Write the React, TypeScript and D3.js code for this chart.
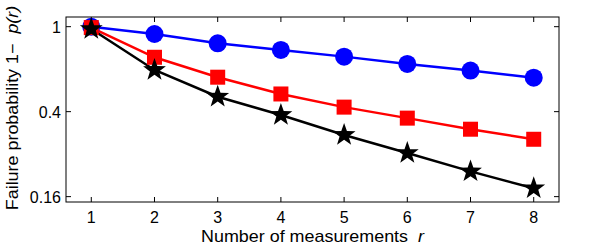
import { useEffect, useRef } from "react"
import * as d3 from "d3"

const measurements = [1, 2, 3, 4, 5, 6, 7, 8]
const circleSeries = [1.0, 0.924, 0.836, 0.778, 0.724, 0.669, 0.623, 0.577]
const squareSeries = [0.99, 0.719, 0.58, 0.484, 0.42, 0.373, 0.331, 0.297]
const starSeries = [0.975, 0.627, 0.47, 0.386, 0.311, 0.256, 0.21, 0.175]
const xTicks = [1, 2, 3, 4, 5, 6, 7, 8]
const yTicks = [0.16, 0.4, 1]

const FONT = "'Liberation Sans', Arial, Helvetica, sans-serif"

function starPath(r: number) {
  const inner = r * 0.4
  const pts: [number, number][] = []
  for (let i = 0; i < 10; i++) {
    const a = -Math.PI / 2 + (i * Math.PI) / 5
    const rr = i % 2 === 0 ? r : inner
    pts.push([rr * Math.cos(a), rr * Math.sin(a)])
  }
  return "M" + pts.map((p) => p.join(",")).join("L") + "Z"
}

export default function App() {
  const svgRef = useRef<SVGSVGElement>(null)

  useEffect(() => {
    if (!svgRef.current) return
    const svg = d3.select(svgRef.current)
    svg.selectAll("*").remove()

    const width = 598
    const height = 245
    const margin = { top: 17, right: 39, bottom: 43, left: 66 }
    const innerWidth = width - margin.left - margin.right
    const innerHeight = height - margin.top - margin.bottom

    const x = d3.scaleLinear().domain([0.6, 8.4]).range([0, innerWidth])
    const y = d3.scaleLog().domain([0.151, 1.11]).range([innerHeight, 0])

    const g = svg.append("g").attr("transform", `translate(${margin.left},${margin.top})`)

    // box
    g.append("rect")
      .attr("width", innerWidth)
      .attr("height", innerHeight)
      .attr("fill", "none")
      .attr("stroke", "#000")
      .attr("stroke-width", 1)

    // inward ticks
    const tl = 5
    xTicks.forEach((t) => {
      g.append("line").attr("x1", x(t)).attr("x2", x(t)).attr("y1", innerHeight).attr("y2", innerHeight - tl).attr("stroke", "#000")
      g.append("line").attr("x1", x(t)).attr("x2", x(t)).attr("y1", 0).attr("y2", tl).attr("stroke", "#000")
      g.append("text")
        .attr("x", x(t))
        .attr("y", innerHeight + 21)
        .attr("text-anchor", "middle")
        .attr("font-family", FONT)
        .attr("font-size", 16)
        .text(t)
    })
    yTicks.forEach((t) => {
      g.append("line").attr("x1", 0).attr("x2", tl).attr("y1", y(t)).attr("y2", y(t)).attr("stroke", "#000")
      g.append("line").attr("x1", innerWidth).attr("x2", innerWidth - tl).attr("y1", y(t)).attr("y2", y(t)).attr("stroke", "#000")
      g.append("text")
        .attr("x", -5)
        .attr("y", y(t) + 6)
        .attr("text-anchor", "end")
        .attr("font-family", FONT)
        .attr("font-size", 16)
        .text(String(t))
    })

    const line = d3
      .line<number>()
      .x((_, i) => x(measurements[i]))
      .y((d) => y(d))

    const series = [
      { values: circleSeries, color: "#0000ff", marker: "circle" },
      { values: squareSeries, color: "#ff0000", marker: "square" },
      { values: starSeries, color: "#000000", marker: "star" },
    ]

    series.forEach((s) => {
      g.append("path")
        .datum(s.values)
        .attr("d", line)
        .attr("fill", "none")
        .attr("stroke", s.color)
        .attr("stroke-width", 2.5)
    })

    series.forEach((s) => {
      const m = g.append("g")
      s.values.forEach((v, i) => {
        const cx = x(measurements[i])
        const cy = y(v)
        if (s.marker === "circle") {
          m.append("circle").attr("cx", cx).attr("cy", cy).attr("r", 9).attr("fill", s.color)
        } else if (s.marker === "square") {
          m.append("rect").attr("x", cx - 7.5).attr("y", cy - 7.5).attr("width", 15).attr("height", 15).attr("fill", s.color)
        } else {
          m.append("path").attr("transform", `translate(${cx},${cy})`).attr("d", starPath(12)).attr("fill", s.color)
        }
      })
    })

    // axis labels
    const xl = svg.append("g").attr("transform", `translate(${margin.left + innerWidth / 2},${height - 3}) scale(1.12,1)`)
    const xt = xl.append("text").attr("text-anchor", "middle").attr("font-family", FONT).attr("font-size", 16)
    xt.append("tspan").text("Number of measurements\u00a0\u00a0")
    xt.append("tspan").attr("font-style", "italic").text("r")

    const yl = svg.append("g").attr("transform", `translate(18,${108}) rotate(-90) scale(1.12,1)`)
    const yt = yl.append("text").attr("text-anchor", "middle").attr("font-family", FONT).attr("font-size", 16)
    yt.append("tspan").text("Failure probability 1\u2212\u00a0\u00a0")
    yt.append("tspan").attr("font-style", "italic").text("p(r)")
  }, [])

  return (
    <svg
      ref={svgRef}
      width={598}
      height={245}
      style={{ position: "absolute", left: 0, top: 0, background: "#fff" }}
    />
  )
}
